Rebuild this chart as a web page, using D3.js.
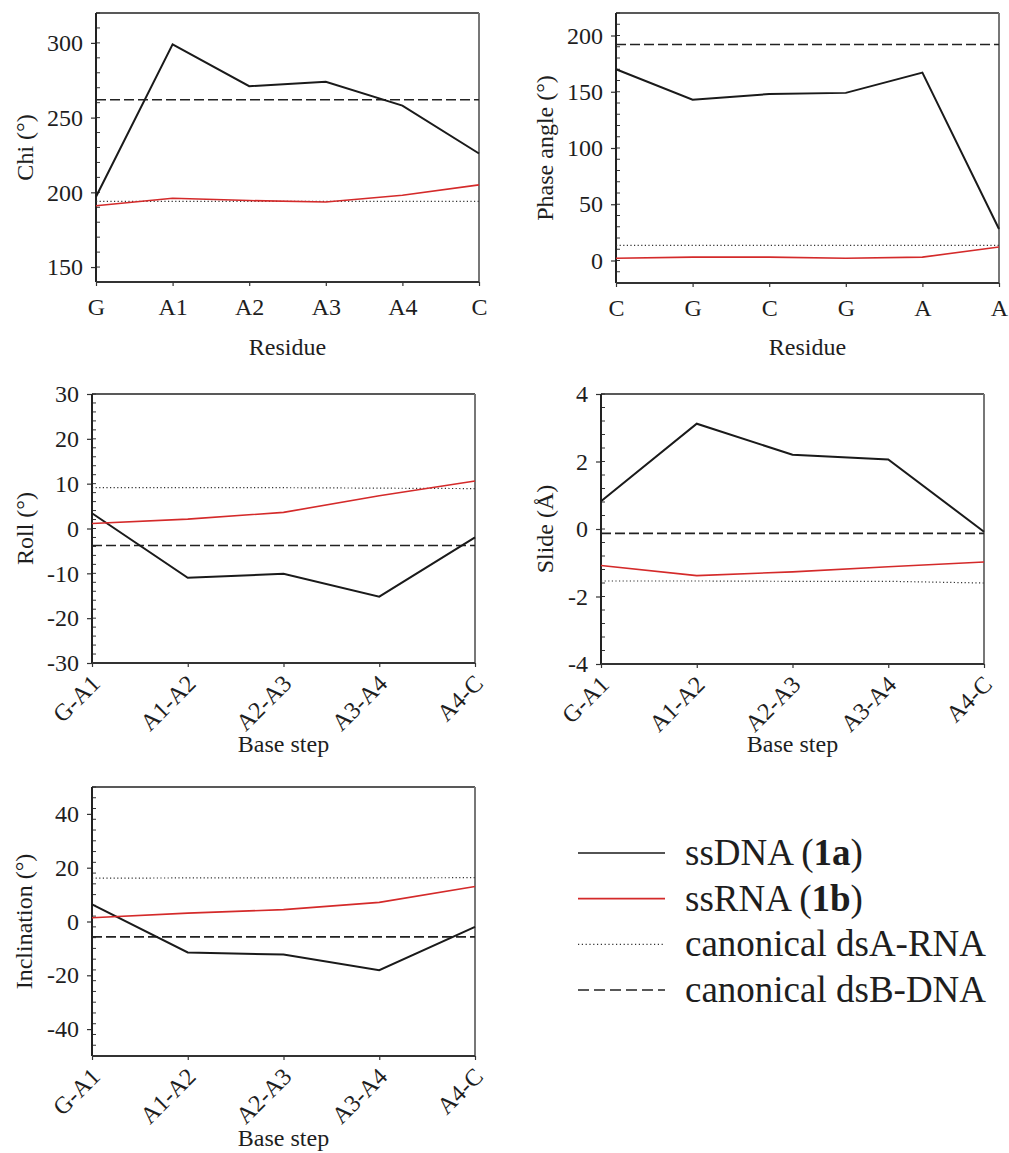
<!DOCTYPE html>
<html>
<head>
<meta charset="utf-8">
<script src="https://cdn.jsdelivr.net/npm/d3@7"></script>
<style>
  body { margin: 0; background: #fff; }
  svg text { font-family: "Liberation Serif", "Times New Roman", serif; fill: #1e1e1e; }
</style>
</head>
<body>
<div id="chart-area"></div>
<script>
var width = 1009,
    height = 1153;

// categories
var residuesChi = ["G", "A1", "A2", "A3", "A4", "C"];
var residuesPhase = ["C", "G", "C", "G", "A", "A"];
var steps = ["G-A1", "A1-A2", "A2-A3", "A3-A4", "A4-C"];

// Chi
var chiDNA = [197, 299, 271, 274, 258, 226];
var chiRNA = [191, 196, 194.5, 193.5, 198, 205];
var chiA = [194, 194, 194, 194, 194, 194];
var chiB = [262, 262, 262, 262, 262, 262];

// Phase angle
var phaseDNA = [170, 143, 148, 149, 167, 28];
var phaseRNA = [2, 3, 3, 2, 3, 12];
var phaseA = [13.5, 13.5, 13.5, 13.5, 13.5, 13.5];
var phaseB = [192, 192, 192, 192, 192, 192];

// Roll
var rollDNA = [3.4, -11, -10.1, -15.2, -2];
var rollRNA = [1.1, 2.1, 3.6, 7.3, 10.6];
var rollA = [9.1, 9.1, 9.1, 9.0, 8.9];
var rollB = [-3.8, -3.8, -3.8, -3.8, -3.8];

// Slide
var slideDNA = [0.82, 3.12, 2.2, 2.06, -0.08];
var slideRNA = [-1.08, -1.38, -1.27, -1.12, -0.98];
var slideA = [-1.54, -1.54, -1.55, -1.55, -1.6];
var slideB = [-0.13, -0.13, -0.13, -0.13, -0.13];

// Inclination
var inclDNA = [6.4, -11.5, -12.3, -18.1, -2];
var inclRNA = [1.4, 3.1, 4.4, 7.1, 13];
var inclA = [16.1, 16.2, 16.2, 16.2, 16.3];
var inclB = [-5.7, -5.7, -5.7, -5.7, -5.7];

var legendLabels = ["ssDNA", "ssRNA", "canonical dsA-RNA", "canonical dsB-DNA"];
var legendBold = ["1a", "1b", null, null];

var styles = [
  { color: "#1a1a1a", width: 2, dash: null },
  { color: "#d42a2a", width: 1.6, dash: null },
  { color: "#333", width: 1.2, dash: "1.2,2.4" },
  { color: "#222", width: 1.6, dash: "10,4" }
];

var svg = d3.select("#chart-area").append("svg")
    .attr("width", width)
    .attr("height", height);

var panels = [
  { x0: 96, x1: 479, y0: 13, y1: 282, cats: residuesChi, rotate: false,
    domain: [140, 320], major: [150, 200, 250, 300], minor: 10,
    ylabel: "Chi (°)", ylx: 25, xlabel: "Residue", xly: 355,
    series: [chiDNA, chiRNA, chiA, chiB] },
  { x0: 616, x1: 999, y0: 13, y1: 283, cats: residuesPhase, rotate: false,
    domain: [-20, 220], major: [0, 50, 100, 150, 200], minor: 10,
    ylabel: "Phase angle (°)", ylx: 545, xlabel: "Residue", xly: 355,
    series: [phaseDNA, phaseRNA, phaseA, phaseB] },
  { x0: 92, x1: 475, y0: 394, y1: 663, cats: steps, rotate: true,
    domain: [-30, 30], major: [-30, -20, -10, 0, 10, 20, 30], minor: 2,
    ylabel: "Roll (°)", ylx: 25, xlabel: "Base step", xly: 752,
    series: [rollDNA, rollRNA, rollA, rollB] },
  { x0: 601, x1: 984, y0: 394, y1: 664, cats: steps, rotate: true,
    domain: [-4, 4], major: [-4, -2, 0, 2, 4], minor: 0.4,
    ylabel: "Slide (Å)", ylx: 545, xlabel: "Base step", xly: 752,
    series: [slideDNA, slideRNA, slideA, slideB] },
  { x0: 92, x1: 475, y0: 787, y1: 1056, cats: steps, rotate: true,
    domain: [-50, 50], major: [-40, -20, 0, 20, 40], minor: 4,
    ylabel: "Inclination (°)", ylx: 24, xlabel: "Base step", xly: 1146,
    series: [inclDNA, inclRNA, inclA, inclB] }
];

panels.forEach(function(p) {
  var g = svg.append("g");

  var x = d3.scalePoint()
    .domain(d3.range(p.cats.length))
    .range([p.x0, p.x1]);

  var y = d3.scaleLinear()
    .domain(p.domain)
    .range([p.y1, p.y0]);

  // frame: top black, right gray
  g.append("line")
    .attr("x1", p.x0).attr("x2", p.x1)
    .attr("y1", p.y0).attr("y2", p.y0)
    .style("stroke", "#222").style("stroke-width", 1.5);
  g.append("line")
    .attr("x1", p.x1).attr("x2", p.x1)
    .attr("y1", p.y0).attr("y2", p.y1)
    .style("stroke", "#777").style("stroke-width", 2);

  // minor ticks inside
  var minors = d3.range(p.domain[0], p.domain[1] + p.minor / 2, p.minor);
  g.append("g").selectAll("line")
    .data(minors)
    .enter()
    .append("line")
    .attr("x1", p.x0).attr("x2", p.x0 + 4)
    .attr("y1", d => y(d)).attr("y2", d => y(d))
    .style("stroke", "#333").style("stroke-width", 1);

  // y axis
  var yAxis = g.append("g")
    .attr("transform", "translate(" + p.x0 + ",0)")
    .call(d3.axisLeft(y).tickValues(p.major).tickSize(5).tickPadding(8)
      .tickFormat(d => String(d)));
  yAxis.select(".domain").remove();
  yAxis.append("line")
    .attr("y1", p.y0).attr("y2", p.y1)
    .style("stroke", "#222").style("stroke-width", 2);
  yAxis.selectAll(".tick line").style("stroke", "#333").style("stroke-width", 1.2);
  yAxis.selectAll("text")
    .style("font-size", "24px")
    .style("font-family", "'Liberation Serif', serif")
    .style("fill", "#1e1e1e");

  // x axis
  var xAxis = g.append("g")
    .attr("transform", "translate(0," + p.y1 + ")")
    .call(d3.axisBottom(x).tickSize(4).tickPadding(12)
      .tickFormat(i => p.cats[i]));
  xAxis.select(".domain").remove();
  xAxis.append("line")
    .attr("x1", p.x0).attr("x2", p.x1)
    .style("stroke", "#333").style("stroke-width", 2);
  xAxis.selectAll(".tick line").style("stroke", "#333").style("stroke-width", 1.2);
  xAxis.selectAll("text")
    .style("font-size", "24px")
    .style("font-family", "'Liberation Serif', serif")
    .style("fill", "#1e1e1e");
  if (p.rotate) {
    xAxis.selectAll("text")
      .attr("text-anchor", "end")
      .attr("dy", null)
      .attr("y", 0)
      .attr("transform", "translate(9,22) rotate(-45)");
  }

  // axis titles
  g.append("text")
    .attr("transform", "translate(" + p.ylx + "," + ((p.y0 + p.y1) / 2) + ") rotate(-90)")
    .attr("text-anchor", "middle")
    .attr("dy", "0.35em")
    .style("font-size", "24px")
    .text(p.ylabel);
  g.append("text")
    .attr("x", (p.x0 + p.x1) / 2)
    .attr("y", p.xly)
    .attr("text-anchor", "middle")
    .style("font-size", "24px")
    .text(p.xlabel);

  // series lines (reference lines first, then data)
  var line = d3.line()
    .x((d, i) => x(i))
    .y(d => y(d));
  [3, 2, 0, 1].forEach(function(k) {
    g.append("path")
      .datum(p.series[k])
      .attr("d", line)
      .style("fill", "none")
      .style("stroke", styles[k].color)
      .style("stroke-width", styles[k].width)
      .style("stroke-dasharray", styles[k].dash);
  });
});

// legend
var legend = svg.append("g");
var legendY = d3.scalePoint()
  .domain(d3.range(legendLabels.length))
  .range([853, 990]);

legendLabels.forEach(function(lab, i) {
  var ly = legendY(i);
  legend.append("line")
    .attr("x1", 578).attr("x2", 665)
    .attr("y1", ly).attr("y2", ly)
    .style("stroke", styles[i].color)
    .style("stroke-width", i == 2 ? 1.2 : 1.6)
    .style("stroke-dasharray", i == 2 ? "1.2,2.6" : (i == 3 ? "11,5" : null));
  var t = legend.append("text")
    .attr("x", 685)
    .attr("y", ly + 12)
    .style("font-size", "37px")
    .text(lab);
  if (legendBold[i]) {
    t.append("tspan").text(" (");
    t.append("tspan").style("font-weight", "bold").text(legendBold[i]);
    t.append("tspan").text(")");
  }
});
</script>
</body>
</html>
